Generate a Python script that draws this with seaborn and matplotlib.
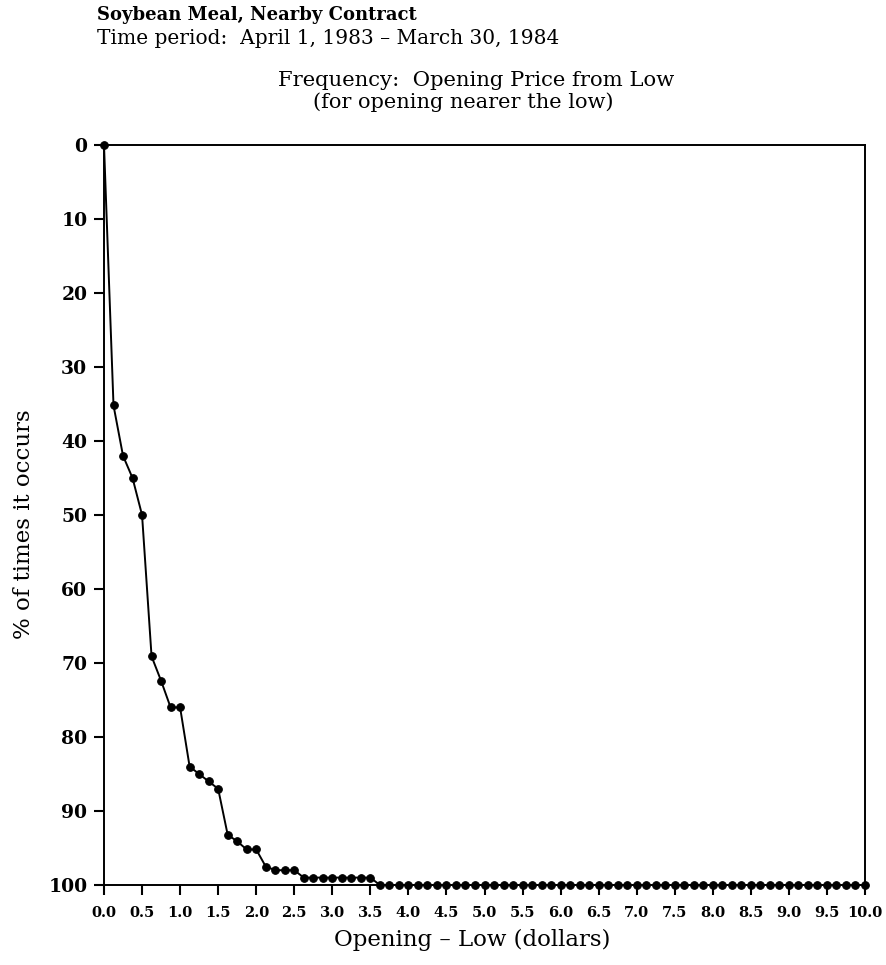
import matplotlib
matplotlib.use("Agg")
import matplotlib.pyplot as plt
import seaborn as sns
import pandas as pd
import numpy as np

# ---- data ----
opening_minus_low = [i * 0.125 for i in range(81)]  # 0.0 .. 10.0 in 1/8 dollar steps
pct_occurs = [0, 35.2, 42, 45, 50, 69.1, 72.4, 76, 76, 84, 85, 86, 87,
              93.2, 94.1, 95.2, 95.2, 97.5, 98, 98, 98,
              99, 99, 99, 99, 99, 99, 99, 99] + [100] * 52
x_ticks = [i * 0.5 for i in range(21)]
x_tick_labels = [f"{v:.1f}" for v in x_ticks]
y_ticks = [0, 10, 20, 30, 40, 50, 60, 70, 80, 90, 100]

df = pd.DataFrame({"x": opening_minus_low, "y": pct_occurs})

sns.set_theme(style="white")
plt.rcParams['font.family'] = ['DejaVu Serif']
plt.rcParams['text.color'] = 'black'
plt.rcParams['axes.labelcolor'] = 'black'
plt.rcParams['xtick.color'] = 'black'
plt.rcParams['ytick.color'] = 'black'

fig = plt.figure(figsize=(8.86, 9.65), dpi=100)
ax = fig.add_axes([104/886, 1 - 885/965, (865-104)/886, (885-145)/965])

sns.lineplot(data=df, x="x", y="y", ax=ax, color="black", linewidth=1.4,
             marker="o", markersize=5.5, markeredgecolor="black",
             markerfacecolor="black", clip_on=False, zorder=5)

ax.set_xlim(0, 10)
ax.set_ylim(100, 0)
ax.set_xticks(x_ticks)
ax.set_xticklabels(x_tick_labels, fontsize=10.5, fontweight="bold")
ax.set_yticks(y_ticks)
ax.set_yticklabels([str(v) for v in y_ticks], fontsize=13.5, fontweight="bold")
ax.tick_params(axis="both", direction="out", length=7, width=1.5, color="black",
               bottom=True, left=True, top=False, right=False)
ax.tick_params(axis="x", pad=8)
ax.tick_params(axis="y", pad=5)
for s in ax.spines.values():
    s.set_color("black")
    s.set_linewidth(1.4)

ax.set_xlabel("Opening – Low (dollars)", fontsize=16.5)
ax.xaxis.set_label_coords((472-104)/(865-104), -0.060)
ax.set_ylabel("% of times it occurs", fontsize=16.5)
ax.yaxis.set_label_coords((35-104)/(865-104), (885-524)/(885-145))

fig.text(97/886, 1 - 15/965, "Soybean Meal, Nearby Contract", fontsize=13,
         fontweight="bold", ha="left", va="center")
fig.text(97/886, 1 - 38/965, "Time period:  April 1, 1983 – March 30, 1984",
         fontsize=14.5, ha="left", va="center")
fig.text(476/886, 1 - 80/965, "Frequency:  Opening Price from Low",
         fontsize=15.2, ha="center", va="center")
fig.text(463/886, 1 - 102/965, "(for opening nearer the low)",
         fontsize=15, ha="center", va="center")

fig.savefig("out.png", dpi=100)
